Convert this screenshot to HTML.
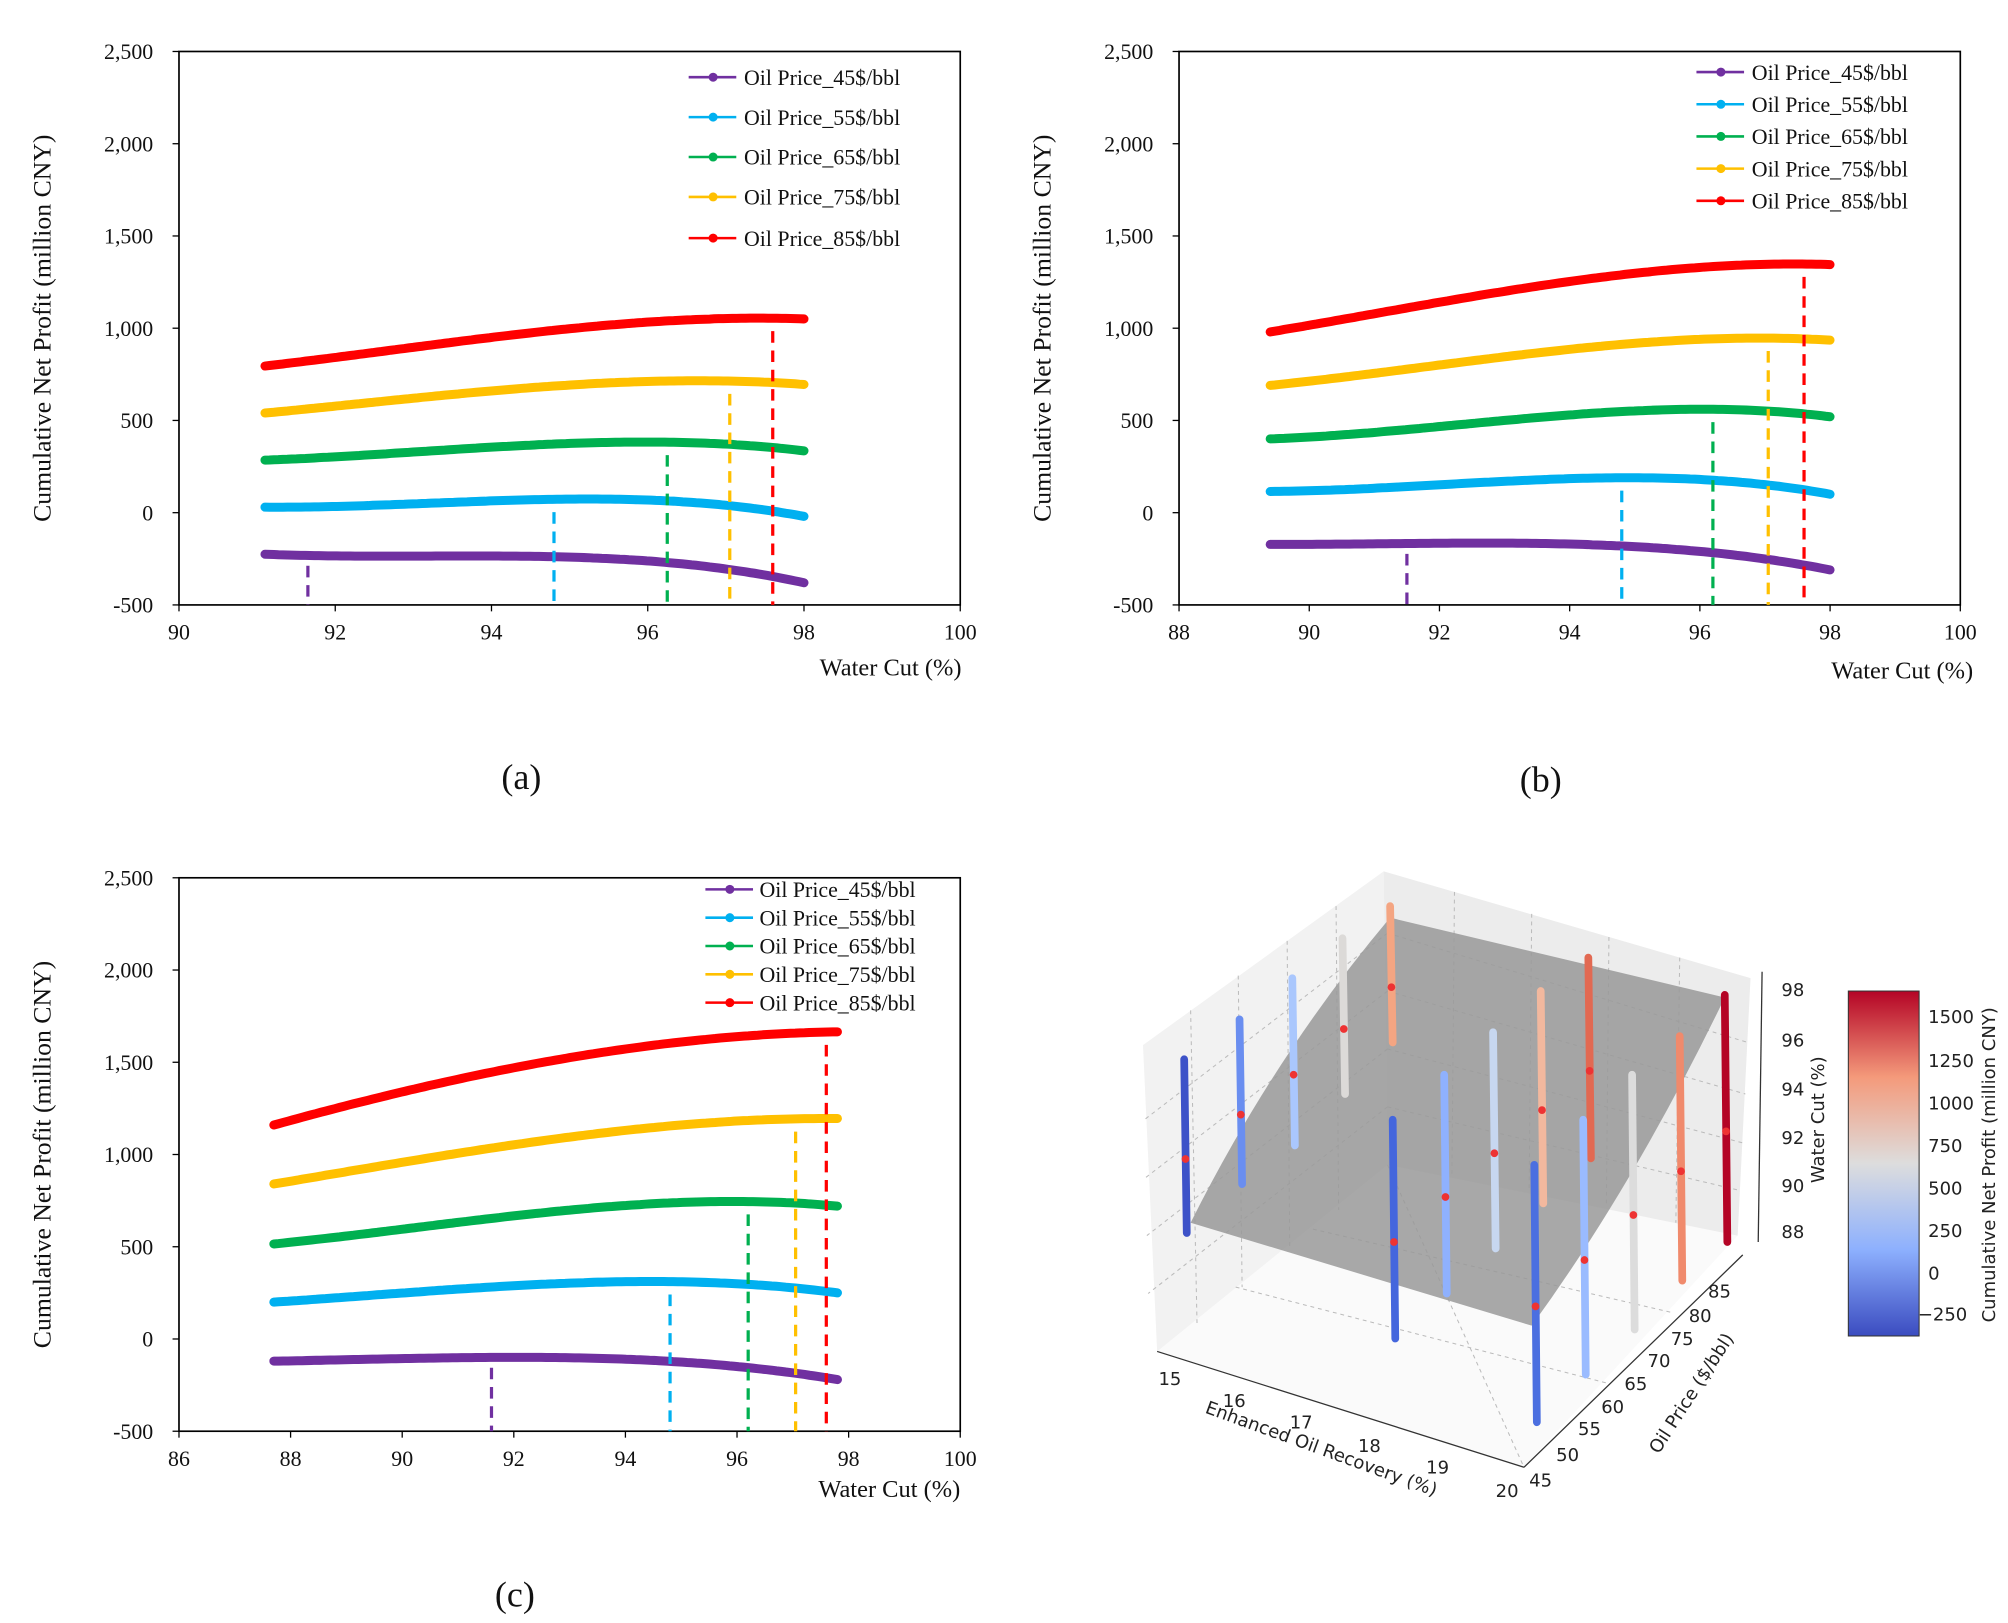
<!DOCTYPE html>
<html><head><meta charset="utf-8"><style>
html,body{margin:0;padding:0;background:#fff}
svg{display:block}
.s{font-family:"Liberation Serif",serif;fill:#111}
.d{font-family:"DejaVu Sans","Liberation Sans",sans-serif;fill:#222}
</style></head><body>
<svg id="v" width="2008" height="1623" viewBox="0 0 1560 1261" xmlns="http://www.w3.org/2000/svg">
<rect width="1560" height="1261" fill="#fff"/>
<g id="g"></g>
<g id="d3">
<polygon points="888,812 1075,677 1360,760 1350,960 1184,1140 899,1050" fill="#fafafa"/>
<polygon points="888,812 1075,677 1078,905 899,1050" fill="#f2f2f2"/>
<polygon points="1075,677 1360,760 1350,960 1078,905" fill="#ececec"/>
<g stroke="#bbb" stroke-dasharray="3,3" stroke-width="0.8" fill="none">
<line x1="925" y1="785" x2="930" y2="1030"/><line x1="962" y1="758" x2="965" y2="1000"/>
<line x1="1000" y1="731" x2="1002" y2="970"/><line x1="1038" y1="704" x2="1040" y2="940"/>
<line x1="1130" y1="693" x2="1128" y2="915"/><line x1="1190" y1="710" x2="1188" y2="925"/>
<line x1="1250" y1="728" x2="1248" y2="938"/><line x1="1305" y1="744" x2="1302" y2="950"/>
<line x1="1078" y1="860" x2="1352" y2="925"/><line x1="1078" y1="815" x2="1354" y2="888"/>
<line x1="1078" y1="770" x2="1356" y2="850"/><line x1="1078" y1="725" x2="1358" y2="810"/>
<line x1="1078" y1="860" x2="892" y2="1005"/><line x1="1078" y1="815" x2="891" y2="960"/>
<line x1="1078" y1="770" x2="890" y2="915"/><line x1="1078" y1="725" x2="889" y2="870"/>
<line x1="1078" y1="905" x2="1184" y2="1140"/><line x1="960" y1="1000" x2="1250" y2="1075"/>
<line x1="1020" y1="955" x2="1300" y2="1020"/>
</g>
<path d="M925,950 Q990,820 1080,713 L1340,775 Q1270,920 1190,1030 Z" fill="#999" fill-opacity="0.85"/>
<g stroke="#333" stroke-width="1" fill="none">
<line x1="899" y1="1050" x2="1184" y2="1140"/><line x1="1184" y1="1140" x2="1354" y2="975"/>
<line x1="1369" y1="755" x2="1366" y2="965"/>
</g>
<g stroke-width="6" stroke-linecap="round" id="bars"></g>
<g class="d" font-size="14">
<text x="1384" y="774">98</text><text x="1384" y="813">96</text><text x="1384" y="851">94</text>
<text x="1384" y="889">92</text><text x="1384" y="926">90</text><text x="1384" y="962">88</text>
<text transform="translate(1417,870) rotate(-90)" text-anchor="middle">Water Cut (%)</text>
<text x="1327" y="1008">85</text><text x="1312" y="1027">80</text><text x="1298" y="1045">75</text>
<text x="1280" y="1062">70</text><text x="1262" y="1080">65</text><text x="1244" y="1098">60</text>
<text x="1226" y="1115">55</text><text x="1209" y="1135">50</text><text x="1188" y="1155">45</text>
<text transform="translate(1318,1085) rotate(-57)" text-anchor="middle">Oil Price ($/bbl)</text>
<text x="900" y="1076">15</text><text x="950" y="1093">16</text><text x="1002" y="1110">17</text>
<text x="1055" y="1128">18</text><text x="1108" y="1145">19</text><text x="1162" y="1163">20</text>
<text transform="translate(1025,1130) rotate(20)" text-anchor="middle">Enhanced Oil Recovery (%)</text>
</g>
<defs><linearGradient id="cb" x1="0" y1="1" x2="0" y2="0">
<stop offset="0" stop-color="#3b4cc0"/><stop offset="0.25" stop-color="#8db0fe"/>
<stop offset="0.5" stop-color="#dddddd"/><stop offset="0.75" stop-color="#f49a7b"/><stop offset="1" stop-color="#b40426"/>
</linearGradient></defs>
<rect x="1436" y="770" width="55" height="268" fill="url(#cb)" stroke="#333" stroke-width="0.8"/>
<g class="d" font-size="14">
<text x="1498" y="795">1500</text><text x="1498" y="829">1250</text><text x="1498" y="862">1000</text>
<text x="1498" y="895">750</text><text x="1498" y="928">500</text><text x="1498" y="961">250</text>
<text x="1498" y="994">0</text><text x="1490" y="1026">−250</text>
<text transform="translate(1550,905) rotate(-90)" text-anchor="middle">Cumulative Net Profit (million CNY)</text>
</g>
</g>
</svg>
<script>
var NS="http://www.w3.org/2000/svg",G=document.getElementById("g");
function el(t,a,p,txt){var e=document.createElementNS(NS,t);for(var k in a)e.setAttribute(k,a[k]);if(txt!=null)e.textContent=txt;(p||G).appendChild(e);return e;}
var C=["#7030a0","#00b0f0","#00b050","#ffc000","#ff0000"];
var N=["45","55","65","75","85"];
function interp(p,x){var s=0;for(var i=0;i<p.length;i++){var l=1;for(var j=0;j<p.length;j++)if(j!=i)l*=(x-p[j][0])/(p[i][0]-p[j][0]);s+=l*p[i][1];}return s;}
function panel(o){
 var X=function(v){return o.x0+(v-o.xmin)/(o.xmax-o.xmin)*(o.x1-o.x0)};
 var Y=function(v){return o.y1-(v+500)/3000*(o.y1-o.y0)};
 el("rect",{x:o.x0,y:o.y0,width:o.x1-o.x0,height:o.y1-o.y0,fill:"none",stroke:"#000","stroke-width":1.3});
 for(var v=-500;v<=2500;v+=500){el("line",{x1:o.x0-5,x2:o.x0,y1:Y(v),y2:Y(v),stroke:"#000"});
  el("text",{x:o.x0-20,y:Y(v)+6,"text-anchor":"end","font-size":17,"class":"s"},null,v.toLocaleString("en-US"));}
 for(var v=o.xmin;v<=o.xmax;v+=2){el("line",{x1:X(v),x2:X(v),y1:o.y1,y2:o.y1+5,stroke:"#000"});
  el("text",{x:X(v),y:o.y1+27,"text-anchor":"middle","font-size":17,"class":"s"},null,v);}
 el("text",{transform:"translate("+(o.x0-100)+","+((o.y0+o.y1)/2)+") rotate(-90)","text-anchor":"middle","font-size":20,"class":"s"},null,"Cumulative Net Profit (million CNY)");
 el("text",{x:o.tx,y:o.ty,"text-anchor":"end","font-size":19,"class":"s"},null,"Water Cut (%)");
 el("text",{x:o.lx,y:o.ly,"text-anchor":"middle","font-size":28,"class":"s"},null,o.lab);
 for(var s=0;s<5;s++){var pts=o.c[s],a=pts[0][0],b=pts[pts.length-1][0],d="";
  for(var k=0;k<=120;k++){var xv=a+(b-a)*k/120;d+=(k?"L":"M")+X(xv).toFixed(1)+","+Y(interp(pts,xv)).toFixed(1);}
  el("path",{d:d,fill:"none",stroke:C[s],"stroke-width":7,"stroke-linecap":"round"});
  var dx=o.dash[s],top=Y(interp(pts,dx))+(s==0?8:10);
  el("line",{x1:X(dx),x2:X(dx),y1:top,y2:o.y1,stroke:C[s],"stroke-width":2.5,"stroke-dasharray":"9,6"});
  var ly=o.leg[2][s];
  el("line",{x1:o.leg[0],x2:o.leg[0]+37,y1:ly,y2:ly,stroke:C[s],"stroke-width":2});
  el("circle",{cx:o.leg[0]+19,cy:ly,r:3.5,fill:C[s]});
  el("text",{x:o.leg[1],y:ly+6,"font-size":17,"class":"s"},null,"Oil Price_"+N[s]+"$/bbl");}
}
panel({x0:139,x1:746,y0:40,y1:470,xmin:90,xmax:100,tx:747,ty:525,lx:405,ly:613,lab:"(a)",
 leg:[535,578,[60,91,122,153,185]],dash:[91.65,94.8,96.25,97.05,97.6],
 c:[[[91.1,-225],[94,-235],[96.5,-280],[98,-380]],
    [[91.1,30],[94.5,70],[96.8,48],[98,-20]],
    [[91.1,285],[94,355],[96.5,380],[98,335]],
    [[91.1,540],[94,660],[96.5,715],[98,695]],
    [[91.1,795],[94,950],[96.5,1045],[98,1050]]]});
panel({x0:916,x1:1523,y0:40,y1:470,xmin:88,xmax:100,tx:1533,ty:527,lx:1197,ly:615,lab:"(b)",
 leg:[1318,1361,[56,81,106,131,156]],dash:[91.5,94.8,96.2,97.05,97.6],
 c:[[[89.4,-172],[92.5,-165],[96,-210],[98,-310]],
    [[89.4,115],[93,170],[96,180],[98,100]],
    [[89.4,400],[93,500],[96.3,560],[98,520]],
    [[89.4,690],[93,845],[96.5,945],[98,935]],
    [[89.4,980],[93,1200],[96.5,1340],[98,1345]]]});
panel({x0:139,x1:746,y0:682,y1:1112,xmin:86,xmax:100,tx:746,ty:1163,lx:400,ly:1248,lab:"(c)",
 leg:[548,590,[691,713,735,757,779]],dash:[91.6,94.8,96.2,97.05,97.6],
 c:[[[87.7,-120],[91.5,-100],[95,-125],[97.8,-220]],
    [[87.7,200],[91.5,280],[95,310],[97.8,250]],
    [[87.7,515],[91.5,650],[95,740],[97.8,720]],
    [[87.7,840],[91.5,1030],[95,1160],[97.8,1195]],
    [[87.7,1160],[91.5,1440],[95,1610],[97.8,1665]]]});
var B=document.getElementById("bars");
[[920,823,958,"#3d52c8"],[963,792,920,"#6a8ef0"],[1004,760,890,"#aac7fd"],[1043,729,850,"#dcdad8"],[1080,704,810,"#f4a582"],
 [1082,870,1040,"#4466dd"],[1122,835,1005,"#8fb1fe"],[1160,802,970,"#c7d7f0"],[1197,770,935,"#f2b89e"],[1234,744,900,"#e26952"],
 [1192,905,1105,"#4b6fe0"],[1230,870,1068,"#9abbff"],[1268,835,1033,"#dcdcdc"],[1305,805,995,"#f08a6c"],[1340,773,965,"#b40426"]]
.forEach(function(b){el("line",{x1:b[0],x2:b[0]+2,y1:b[1],y2:b[2],stroke:b[3]},B);
 el("circle",{cx:b[0]+1,cy:(b[1]+b[2])/2+10,r:3,fill:"#e33"},B);});
</script>
</body></html>
